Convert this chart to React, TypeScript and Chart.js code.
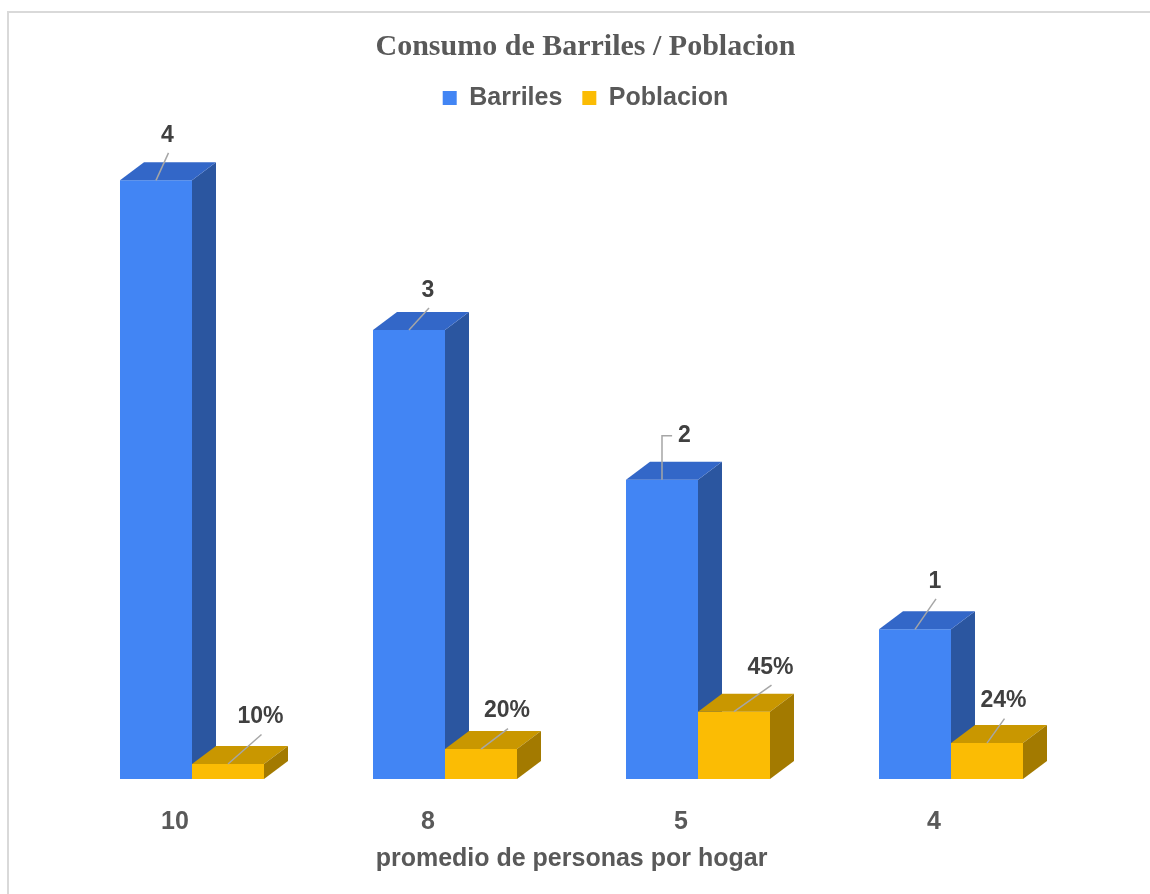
import React, { useEffect, useRef } from "react";
import { Chart, registerables } from "chart.js";

Chart.register(...registerables);

// ---- data ----
const categories = ["10", "8", "5", "4"];
const barriles = [4, 3, 2, 1];
const poblacion = [0.1, 0.2, 0.45, 0.24];
const seriesNames = ["Barriles", "Poblacion"];
const chartTitle = "Consumo de Barriles / Poblacion";
const axisTitle = "promedio de personas por hogar";

// ---- styles ----
const FRONT = ["#4285F4", "#FBBC04"];
const TOP = ["#3367C8", "#C99700"];
const SIDE = ["#2B56A0", "#A37A00"];
const TEXT = "#595959";
const LABEL = "#404040";
const SANS = "Arial, 'Liberation Sans', sans-serif";
const SERIF = "'Times New Roman', 'Liberation Serif', serif";

// label placement relative to the front-top centre of each bar
const labelOffsets = [
  [
    { dx: 11.5, dy: -45 },
    { dx: 19, dy: -39.5 },
    { dx: 22.5, dy: -44, elbow: true },
    { dx: 20, dy: -48 },
  ],
  [
    { dx: 32.5, dy: -47 },
    { dx: 26, dy: -38 },
    { dx: 36.5, dy: -44 },
    { dx: 16.5, dy: -42 },
  ],
];

function drawFaces(chart: any, d: number, opts: any, top: boolean, side: boolean) {
  const meta = chart.getDatasetMeta(d);
  const ctx = chart.ctx;
  const { depthX, depthY } = opts;
  meta.data.forEach((el: any) => {
    const { x, y, base, width } = el.getProps(["x", "y", "base", "width"], true);
    const l = x - width / 2;
    const r = x + width / 2;
    ctx.save();
    if (top) {
      ctx.fillStyle = TOP[d];
      ctx.beginPath();
      ctx.moveTo(l, y);
      ctx.lineTo(l + depthX, y - depthY);
      ctx.lineTo(r + depthX, y - depthY);
      ctx.lineTo(r, y);
      ctx.closePath();
      ctx.fill();
    }
    if (side) {
      ctx.fillStyle = SIDE[d];
      ctx.beginPath();
      ctx.moveTo(r, y);
      ctx.lineTo(r + depthX, y - depthY);
      ctx.lineTo(r + depthX, base - depthY);
      ctx.lineTo(r, base);
      ctx.closePath();
      ctx.fill();
    }
    ctx.restore();
  });
}

const depthPlugin = {
  id: "depth3d",
  beforeDatasetsDraw(chart: any, _a: any, opts: any) {
    const n = chart.data.datasets.length;
    for (let d = 0; d < n - 1; d++) drawFaces(chart, d, opts, false, true);
  },
  afterDatasetsDraw(chart: any, _a: any, opts: any) {
    const n = chart.data.datasets.length;
    for (let d = 0; d < n; d++) drawFaces(chart, d, opts, true, false);
    drawFaces(chart, n - 1, opts, false, true);
  },
  afterDraw(chart: any) {
    const ctx = chart.ctx;
    chart.data.datasets.forEach((ds: any, d: number) => {
      const meta = chart.getDatasetMeta(d);
      meta.data.forEach((el: any, i: number) => {
        const { x, y } = el.getProps(["x", "y"], true);
        const v = ds.data[i];
        const text = d === 1 ? Math.round(v * 100) + "%" : String(v);
        const off = labelOffsets[d][i];
        const lx = x + off.dx;
        const ly = y + off.dy;
        ctx.save();
        ctx.font = `bold 23px ${SANS}`;
        const tw = ctx.measureText(text).width;
        ctx.strokeStyle = "#A6A6A6";
        ctx.lineWidth = 1.5;
        ctx.beginPath();
        if (off.elbow) {
          ctx.moveTo(x, y);
          ctx.lineTo(x, ly);
          ctx.lineTo(lx - tw / 2 - 6, ly);
        } else {
          ctx.moveTo(x, y);
          ctx.lineTo(lx + 1, ly + 17.5);
        }
        ctx.stroke();
        ctx.fillStyle = LABEL;
        ctx.textAlign = "center";
        ctx.textBaseline = "middle";
        ctx.fillText(text, lx, ly);
        ctx.restore();
      });
    });
  },
};

export default function App() {
  const ref = useRef<HTMLCanvasElement>(null);
  useEffect(() => {
    if (!ref.current) return;
    const chart = new Chart(ref.current, {
      type: "bar",
      data: {
        labels: categories,
        datasets: [
          {
            label: seriesNames[0],
            data: barriles,
            backgroundColor: FRONT[0],
            borderWidth: 0,
            categoryPercentage: 0.5692,
            barPercentage: 1,
          },
          {
            label: seriesNames[1],
            data: poblacion,
            backgroundColor: FRONT[1],
            borderWidth: 0,
            categoryPercentage: 0.5692,
            barPercentage: 1,
          },
        ],
      },
      options: {
        animation: false,
        responsive: false,
        events: [],
        devicePixelRatio: 1,
        layout: { padding: { left: 65.5, right: 44.5, top: 0, bottom: 15.7 } },
        scales: {
          x: {
            grid: { display: false, drawTicks: false },
            border: { display: false },
            ticks: {
              color: TEXT,
              padding: 28.5,
              labelOffset: -17,
              font: { family: SANS, size: 25, weight: "bold", lineHeight: 1.2 },
            },
            title: {
              display: true,
              text: axisTitle,
              color: TEXT,
              font: { family: SANS, size: 25, weight: "bold", lineHeight: 1.2 },
              padding: { top: -21.7, bottom: 4 },
            },
          },
          y: {
            position: "right",
            min: 0,
            max: 4.4,
            grid: { display: false },
            border: { display: false },
            ticks: { display: false },
            afterFit: (s: any) => {
              s.width = 28;
            },
          },
        },
        plugins: {
          tooltip: { enabled: false },
          title: {
            display: true,
            text: chartTitle,
            color: TEXT,
            font: { family: SERIF, size: 30, weight: "bold", lineHeight: 1.2 },
            padding: { top: 29.4, bottom: 0.1 },
          },
          legend: {
            display: true,
            position: "top",
            labels: {
              boxWidth: 14,
              boxHeight: 14,
              padding: 20,
              color: TEXT,
              font: { family: SANS, size: 25, weight: "bold" },
            },
          },
          depth3d: { depthX: 24, depthY: 18 },
        } as any,
      },
      plugins: [depthPlugin],
    } as any);
    return () => chart.destroy();
  }, []);

  return (
    <div
      style={{
        position: "fixed",
        left: 0,
        top: 0,
        width: 1150,
        height: 894,
        overflow: "hidden",
        background: "#fff",
      }}
    >
      <div
        style={{
          position: "absolute",
          left: 7,
          top: 11,
          width: 1200,
          height: 950,
          borderTop: "2px solid #D9D9D9",
          borderLeft: "2px solid #D9D9D9",
        }}
      />
      <canvas
        ref={ref}
        width={1150}
        height={894}
        style={{ position: "absolute", left: 0, top: 0, width: 1150, height: 894 }}
      />
    </div>
  );
}
